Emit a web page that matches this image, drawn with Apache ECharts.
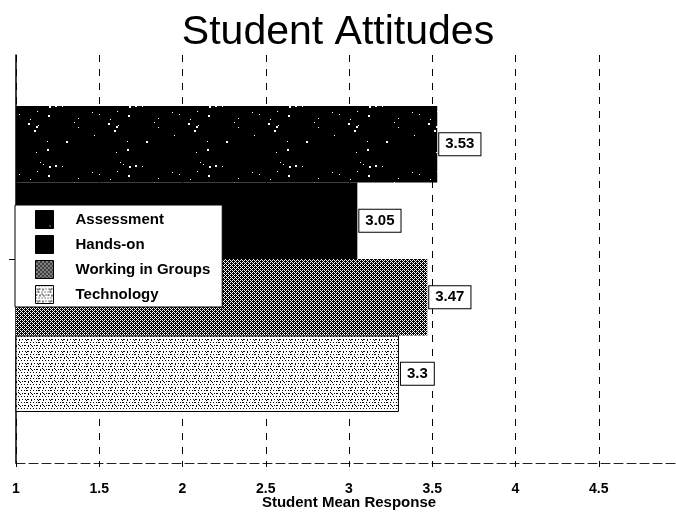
<!DOCTYPE html>
<html>
<head>
<meta charset="utf-8">
<title>Student Attitudes</title>
<script src="https://cdn.jsdelivr.net/npm/echarts@6/dist/echarts.min.js"></script>
<style>
  html, body { margin: 0; padding: 0; background: #fff; }
  #chart { width: 676px; height: 513px; }
</style>
</head>
<body>
<div id="chart"></div>
<script>
// Mean responses per topic
const category = ['Attitudes'];
const seriesNames = ['Assessment', 'Hands-on', 'Working in Groups', 'Technology'];
const assessment = [3.53];
const handsOn = [3.05];
const workingInGroups = [3.47];
const technology = [3.3];
const tickLabels = ['1', '1.5', '2', '2.5', '3', '3.5', '4', '4.5', ''];

// Small seeded generator so the textures look the same on every load
function makeRand(seed) {
  let s = seed >>> 0;
  return function () {
    s = (s * 1664525 + 1013904223) >>> 0;
    return s / 4294967296;
  };
}

function tile(w, h, draw) {
  const c = document.createElement('canvas');
  c.width = w; c.height = h;
  const ctx = c.getContext('2d');
  draw(ctx, w, h);
  return c;
}

// Black fill with scattered white specks
const speckled = tile(80, 60, function (ctx, w, h) {
  ctx.fillStyle = '#000';
  ctx.fillRect(0, 0, w, h);
  const r = makeRand(7);
  ctx.fillStyle = '#fff';
  for (let i = 0; i < 22; i++) {
    const x = Math.floor(r() * w), y = Math.floor(r() * h);
    const s = r() < 0.3 ? 2 : 1;
    ctx.fillRect(x, y, s, s);
  }
});

// Dense dark cross-hatch
const hatch = tile(4, 4, function (ctx, w, h) {
  ctx.fillStyle = '#000';
  ctx.fillRect(0, 0, w, h);
  ctx.fillStyle = '#fff';
  for (let y = 0; y < h; y++) {
    for (let x = 0; x < w; x++) {
      if ((x + y) % 4 === 0 || ((x - y + 8) % 4 === 2)) ctx.fillRect(x, y, 1, 1);
    }
  }
});

// Light stipple of dots
const stipple = tile(12, 12, function (ctx, w, h) {
  ctx.fillStyle = '#fff';
  ctx.fillRect(0, 0, w, h);
  ctx.fillStyle = '#000';
  for (let y = 0; y < h; y += 3) {
    for (let x = ((y / 3) % 2) * 1; x < w; x += 3) {
      ctx.fillRect(x, y, 1, 1);
    }
  }
  const r = makeRand(3);
  for (let i = 0; i < 10; i++) {
    ctx.fillRect(Math.floor(r() * w), Math.floor(r() * h), 1, 1);
  }
});

const fills = [
  { image: speckled, repeat: 'repeat' },
  '#000',
  { image: hatch, repeat: 'repeat' },
  { image: stipple, repeat: 'repeat' }
];
const values = [assessment, handsOn, workingInGroups, technology];

const chart = echarts.init(document.getElementById('chart'), null, { renderer: 'canvas' });

const labelStyle = {
  show: true,
  position: 'right',
  distance: 2,
  color: '#000',
  fontFamily: 'Liberation Sans, Arial, sans-serif',
  fontWeight: 'bold',
  fontSize: 15,
  backgroundColor: '#fff',
  borderColor: '#000',
  borderWidth: 1,
  padding: [4, 6, 3, 6]
};

chart.setOption({
  animation: false,
  backgroundColor: '#fff',
  title: {
    text: 'Student Attitudes',
    left: 'center',
    top: 7,
    textStyle: {
      fontFamily: 'Liberation Sans, Arial, sans-serif',
      fontWeight: 'normal',
      fontSize: 41,
      color: '#000'
    }
  },
  legend: {
    orient: 'vertical',
    left: 15,
    top: 205,
    data: seriesNames,
    itemWidth: 18,
    itemHeight: 18,
    itemGap: 6,
    icon: 'rect',
    padding: [5, 12, 3, 20],
    backgroundColor: '#fff',
    borderColor: '#000',
    borderWidth: 1,
    borderRadius: 0,
    itemStyle: { borderColor: '#000', borderWidth: 1 },
    textStyle: {
      fontFamily: 'Liberation Sans, Arial, sans-serif',
      fontWeight: 'bold',
      fontSize: 15,
      color: '#000',
      padding: [0, 0, 0, 17]
    }
  },
  grid: {
    left: 16,
    width: 666,
    top: 55,
    bottom: 50,
    containLabel: false,
    outerBoundsMode: 'none'
  },
  xAxis: {
    type: 'value',
    min: 1,
    max: 5,
    interval: 0.5,
    name: 'Student Mean Response',
    nameLocation: 'middle',
    nameGap: 32,
    nameMoveOverlap: false,
    nameTextStyle: {
      fontFamily: 'Liberation Sans, Arial, sans-serif',
      fontWeight: 'bold',
      fontSize: 15,
      color: '#000'
    },
    axisLine: { show: true, lineStyle: { color: '#222', width: 1, type: [9, 4] } },
    axisTick: { show: true, length: 4, lineStyle: { color: '#000' } },
    axisLabel: {
      margin: 19,
      color: '#000',
      fontFamily: 'Liberation Sans, Arial, sans-serif',
      fontWeight: 'bold',
      fontSize: 14,
      formatter: function (v) {
        const i = Math.round((v - 1) / 0.5);
        return tickLabels[i] !== undefined ? tickLabels[i] : '';
      }
    },
    splitLine: { show: true, lineStyle: { color: '#000', width: 1, type: [7, 7] } }
  },
  yAxis: {
    type: 'category',
    data: category,
    inverse: true,
    axisLine: { show: true, lineStyle: { color: '#000', width: 1.5 } },
    axisTick: { show: true, alignWithLabel: true, length: 7, lineStyle: { color: '#000' } },
    axisLabel: { show: false },
    splitLine: { show: false }
  },
  series: seriesNames.map(function (name, i) {
    return {
      name: name,
      type: 'bar',
      data: values[i],
      barGap: '0%',
      barCategoryGap: '25%',
      itemStyle: { color: fills[i], borderColor: '#000', borderWidth: i === 3 ? 1 : 0 },
      label: labelStyle
    };
  })
});
</script>
</body>
</html>
